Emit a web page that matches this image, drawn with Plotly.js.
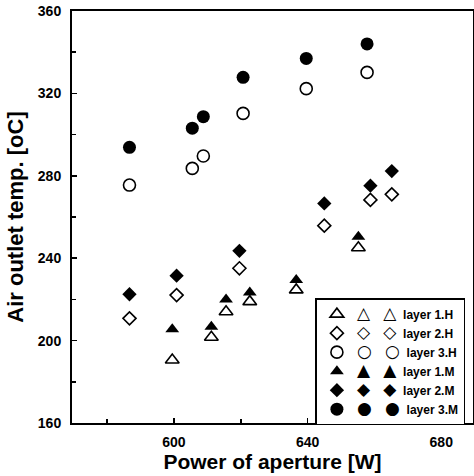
<!DOCTYPE html>
<html>
<head>
<meta charset="utf-8">
<script src="https://cdn.plot.ly/plotly-3.0.1.min.js"></script>
<style>html,body{margin:0;padding:0;background:#fff;}</style>
</head>
<body>
<div id="chart" style="width:474px;height:476px;"></div>
<script>
// Power of aperture [W] and air outlet temperature [oC]
const xLayer1 = [599.5, 611.2, 615.6, 622.7, 636.6, 655.2];
const yLayer1H = [190.6, 201.6, 214.0, 218.9, 224.6, 245.1];
const yLayer1M = [205.5, 206.7, 220.0, 223.3, 229.4, 250.4];
const xLayer2 = [586.7, 600.8, 619.6, 645.0, 658.8, 665.2];
const yLayer2H = [210.8, 222.1, 235.1, 255.8, 268.3, 271.0];
const yLayer2M = [222.5, 231.5, 243.6, 266.6, 275.2, 282.3];
const xLayer3 = [586.7, 605.5, 608.8, 620.7, 639.6, 657.8];
const yLayer3H = [275.5, 283.6, 289.6, 310.3, 322.3, 330.2];
const yLayer3M = [293.8, 303.1, 308.7, 327.8, 337.0, 344.0];

const seriesNames = ['layer 1.H', 'layer 2.H', 'layer 3.H', 'layer 1.M', 'layer 2.M', 'layer 3.M'];
const legendGlyphs = ['\u25B3', '\u25C7', '\u25CB', '\u25B2', '\u25C6', '\u25CF'];

const NB = '\u00A0';
function legendName(i) {
  const g = '<span style="font-family:\'DejaVu Sans\';font-size:17px;font-weight:normal">' + legendGlyphs[i] + '</span>';
  return g + NB.repeat(4) + g + NB.repeat(2) + seriesNames[i];
}

function openMarker(symbol, size) {
  return {symbol: symbol, size: size, color: 'white', line: {color: 'black', width: 1.6}};
}
function filledMarker(symbol, size) {
  return {symbol: symbol, size: size, color: 'black', line: {color: 'black', width: 0}};
}

const traces = [
  {x: xLayer1, y: yLayer1H, name: legendName(0), mode: 'markers', type: 'scatter', marker: openMarker('triangle-up', 12)},
  {x: xLayer2, y: yLayer2H, name: legendName(1), mode: 'markers', type: 'scatter', marker: openMarker('diamond', 10)},
  {x: xLayer3, y: yLayer3H, name: legendName(2), mode: 'markers', type: 'scatter', marker: openMarker('circle', 12)},
  {x: xLayer1, y: yLayer1M, name: legendName(3), mode: 'markers', type: 'scatter', marker: filledMarker('triangle-up', 12)},
  {x: xLayer2, y: yLayer2M, name: legendName(4), mode: 'markers', type: 'scatter', marker: filledMarker('diamond', 11)},
  {x: xLayer3, y: yLayer3M, name: legendName(5), mode: 'markers', type: 'scatter', marker: filledMarker('circle', 13)}
];

const tickFont = {family: 'Liberation Sans, Arial, sans-serif', size: 14, weight: 'bold', color: 'black'};

const layout = {
  width: 474, height: 476,
  margin: {l: 72, r: 1, t: 11, b: 53, pad: 0},
  paper_bgcolor: 'white', plot_bgcolor: 'white',
  showlegend: true,
  legend: {
    x: 0.607, y: 0.303, xanchor: 'left', yanchor: 'top',
    bgcolor: 'white', bordercolor: 'black', borderwidth: 1.5,
    font: {family: 'Liberation Sans, Arial, sans-serif', size: 12, weight: 'bold', color: 'black'},
    tracegroupgap: 0
  },
  xaxis: {
    range: [569.5, 689.5], tick0: 600, dtick: 40,
    ticks: 'inside', ticklen: 5, tickwidth: 1.5, tickcolor: 'black',
    minor: {dtick: 20, tick0: 580, ticks: 'inside', ticklen: 4, tickwidth: 1.5, tickcolor: 'black'},
    showline: true, linecolor: 'black', linewidth: 2, mirror: true,
    showgrid: false, zeroline: false, automargin: false,
    tickfont: tickFont, ticklabelstandoff: 5,
    title: {text: 'Power of aperture [W]', standoff: 0,
            font: {family: 'Liberation Sans, Arial, sans-serif', size: 21, weight: 'bold', color: 'black'}}
  },
  yaxis: {
    range: [160, 360], tick0: 160, dtick: 40,
    ticks: 'inside', ticklen: 5, tickwidth: 1.5, tickcolor: 'black',
    minor: {dtick: 20, tick0: 160, ticks: 'inside', ticklen: 4, tickwidth: 1.5, tickcolor: 'black'},
    showline: true, linecolor: 'black', linewidth: 2, mirror: true,
    showgrid: false, zeroline: false, automargin: false,
    tickfont: tickFont, ticklabelstandoff: 6,
    title: {text: 'Air outlet temp. [oC]', standoff: 8,
            font: {family: 'Liberation Sans, Arial, sans-serif', size: 22, weight: 'bold', color: 'black'}}
  }
};

Plotly.newPlot('chart', traces, layout, {staticPlot: true, displayModeBar: false});
</script>
</body>
</html>
